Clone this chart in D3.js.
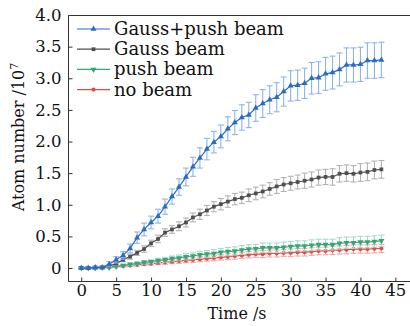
<!DOCTYPE html>
<html>
<head>
<meta charset="utf-8">
<script src="https://cdn.jsdelivr.net/npm/d3@7"></script>
<style>
  body { margin: 0; background: #fff; }
  svg text { font-family: "DejaVu Serif", serif; fill: #111; }
</style>
</head>
<body>
<svg id="chart" width="410" height="326"></svg>
<script>
const times = [0, 1, 2, 3, 4, 5, 6, 7, 8, 9, 10, 11, 12, 13, 14, 15, 16, 17, 18, 19, 20, 21,
  22, 23, 24, 25, 26, 27, 28, 29, 30, 31, 32, 33, 34, 35, 36, 37, 38, 39, 40, 41, 42, 43];

const gaussPush = [0, 0, 0.01, 0.01, 0.06, 0.13, 0.20, 0.31, 0.48, 0.61, 0.72, 0.82, 0.97, 1.13,
  1.28, 1.44, 1.60, 1.74, 1.88, 1.99, 2.08, 2.20, 2.30, 2.38, 2.42, 2.53, 2.60, 2.66, 2.70, 2.79,
  2.88, 2.89, 2.92, 3.00, 3.01, 3.07, 3.09, 3.14, 3.21, 3.21, 3.22, 3.28, 3.28, 3.29];
const gaussPushErr = [0.01, 0.01, 0.02, 0.02, 0.04, 0.05, 0.06, 0.07, 0.09, 0.10, 0.10, 0.11, 0.12,
  0.12, 0.13, 0.14, 0.15, 0.16, 0.17, 0.17, 0.18, 0.19, 0.19, 0.20, 0.20, 0.21, 0.22, 0.22, 0.23,
  0.23, 0.24, 0.24, 0.24, 0.25, 0.25, 0.26, 0.26, 0.26, 0.27, 0.27, 0.27, 0.28, 0.28, 0.28];

const gauss = [0, 0, 0.01, 0.01, 0.03, 0.07, 0.13, 0.18, 0.24, 0.30, 0.39, 0.46, 0.56, 0.61, 0.66,
  0.72, 0.80, 0.85, 0.91, 0.97, 1.01, 1.05, 1.09, 1.11, 1.15, 1.18, 1.21, 1.25, 1.29, 1.32, 1.34,
  1.36, 1.38, 1.40, 1.43, 1.44, 1.44, 1.49, 1.50, 1.49, 1.51, 1.52, 1.55, 1.56];
const gaussErr = [0.01, 0.01, 0.01, 0.01, 0.02, 0.03, 0.03, 0.04, 0.04, 0.05, 0.05, 0.06, 0.06,
  0.06, 0.07, 0.07, 0.07, 0.08, 0.08, 0.08, 0.09, 0.09, 0.09, 0.09, 0.10, 0.10, 0.10, 0.10, 0.11,
  0.11, 0.11, 0.11, 0.12, 0.12, 0.12, 0.12, 0.13, 0.13, 0.13, 0.13, 0.14, 0.14, 0.14, 0.14];

const push = [0, 0, 0, 0.01, 0.01, 0.03, 0.04, 0.06, 0.07, 0.09, 0.10, 0.12, 0.13, 0.15, 0.16,
  0.18, 0.19, 0.21, 0.22, 0.23, 0.25, 0.26, 0.27, 0.285, 0.30, 0.305, 0.32, 0.32, 0.32, 0.33,
  0.34, 0.35, 0.35, 0.36, 0.37, 0.37, 0.37, 0.39, 0.40, 0.40, 0.41, 0.41, 0.42, 0.43];
const pushErr = [0.01, 0.01, 0.01, 0.01, 0.01, 0.015, 0.02, 0.02, 0.025, 0.03, 0.03, 0.035, 0.04,
  0.04, 0.045, 0.05, 0.05, 0.055, 0.055, 0.06, 0.06, 0.065, 0.065, 0.07, 0.07, 0.07, 0.075, 0.075,
  0.075, 0.08, 0.08, 0.08, 0.08, 0.085, 0.085, 0.085, 0.085, 0.09, 0.09, 0.09, 0.09, 0.09, 0.09, 0.09];

const noBeam = [0, 0, 0, 0.01, 0.01, 0.02, 0.03, 0.04, 0.05, 0.06, 0.07, 0.08, 0.09, 0.10, 0.11,
  0.12, 0.13, 0.14, 0.15, 0.16, 0.17, 0.18, 0.19, 0.20, 0.21, 0.22, 0.22, 0.23, 0.23, 0.24, 0.24,
  0.25, 0.25, 0.26, 0.27, 0.27, 0.28, 0.285, 0.29, 0.30, 0.30, 0.30, 0.305, 0.31];
const noBeamErr = [0.01, 0.01, 0.01, 0.01, 0.01, 0.01, 0.015, 0.015, 0.02, 0.02, 0.025, 0.025, 0.03,
  0.03, 0.035, 0.035, 0.04, 0.04, 0.04, 0.045, 0.045, 0.045, 0.05, 0.05, 0.05, 0.05, 0.055, 0.055,
  0.055, 0.055, 0.06, 0.06, 0.06, 0.06, 0.06, 0.06, 0.065, 0.065, 0.065, 0.065, 0.065, 0.065,
  0.065, 0.065];

const xTicks = [0, 5, 10, 15, 20, 25, 30, 35, 40, 45];
const yTicks = [0, 0.5, 1.0, 1.5, 2.0, 2.5, 3.0, 3.5, 4.0];

// drawn bottom-up so the blue curve ends on top
const series = [
  { name: "no beam", values: noBeam, err: noBeamErr, color: "#e8484c", errColor: "#f3a3a5", symbol: d3.symbolCircle, size: 14, rot: 0 },
  { name: "push beam", values: push, err: pushErr, color: "#35a576", errColor: "#a6dcc3", symbol: d3.symbolTriangle, size: 16, rot: 180 },
  { name: "Gauss beam", values: gauss, err: gaussErr, color: "#4f4f4f", errColor: "#b3b3b3", symbol: d3.symbolSquare, size: 14, rot: 0 },
  { name: "Gauss+push beam", values: gaussPush, err: gaussPushErr, color: "#2a6cc4", errColor: "#8fb3e6", symbol: d3.symbolTriangle, size: 16, rot: 0 },
];

const margin = { left: 68, top: 15, right: 410, bottom: 281 };

const svg = d3.select("#chart");

const x = d3.scaleLinear().domain([-1.9, 47.1]).range([margin.left, margin.right]);
const y = d3.scaleLinear().domain([-0.205, 4.0]).range([margin.bottom, margin.top]);

// error bars, lines and markers
series.forEach((s) => {
  const pts = times.map((t, i) => ({ t, v: s.values[i], e: s.err[i] }));
  const g = svg.append("g").attr("class", "series");

  const eb = g.selectAll(".errBar")
    .data(pts)
    .enter()
    .append("g")
    .attr("class", "errBar")
    .attr("stroke", s.errColor)
    .attr("stroke-width", 1.1);
  eb.append("line")
    .attr("x1", (d) => x(d.t)).attr("x2", (d) => x(d.t))
    .attr("y1", (d) => y(d.v - d.e)).attr("y2", (d) => y(d.v + d.e));
  eb.append("line")
    .attr("x1", (d) => x(d.t) - 3).attr("x2", (d) => x(d.t) + 3)
    .attr("y1", (d) => y(d.v + d.e)).attr("y2", (d) => y(d.v + d.e));
  eb.append("line")
    .attr("x1", (d) => x(d.t) - 3).attr("x2", (d) => x(d.t) + 3)
    .attr("y1", (d) => y(d.v - d.e)).attr("y2", (d) => y(d.v - d.e));

  g.append("path")
    .datum(pts)
    .attr("fill", "none")
    .attr("stroke", s.color)
    .attr("stroke-width", 1.2)
    .attr("d", d3.line().x((d) => x(d.t)).y((d) => y(d.v)));

  g.selectAll(".marker")
    .data(pts)
    .enter()
    .append("path")
    .attr("class", "marker")
    .attr("fill", s.color)
    .attr("d", d3.symbol().type(s.symbol).size(s.size))
    .attr("transform", (d) => `translate(${x(d.t)},${y(d.v)}) rotate(${s.rot})`);
});

// frame
svg.append("path")
  .attr("fill", "none")
  .attr("stroke", "#333")
  .attr("stroke-width", 1)
  .attr("d", `M${margin.right},${margin.top + 0.5}H${margin.left + 0.5}V${margin.bottom + 0.5}H${margin.right}`);

// x axis
const xAxis = svg.append("g")
  .attr("transform", `translate(0,${margin.bottom + 0.5})`)
  .call(d3.axisBottom(x).tickValues(xTicks).tickSize(-4).tickPadding(3).tickFormat(d3.format("d")));
xAxis.select(".domain").remove();
xAxis.selectAll(".tick line").attr("stroke", "#333");
xAxis.selectAll(".tick text").attr("font-size", 16.5).attr("fill", "#111");

// y axis
const yAxis = svg.append("g")
  .attr("transform", `translate(${margin.left + 0.5},0)`)
  .call(d3.axisLeft(y).tickValues(yTicks).tickSize(-4).tickPadding(7)
    .tickFormat((d) => (d === 0 ? "0" : d3.format(".1f")(d))));
yAxis.select(".domain").remove();
yAxis.selectAll(".tick line").attr("stroke", "#333");
yAxis.selectAll(".tick text").attr("font-size", 16.5).attr("fill", "#111");

// axis titles
svg.append("text")
  .attr("x", 237)
  .attr("y", 319)
  .attr("text-anchor", "middle")
  .attr("font-size", 16)
  .text("Time /s");

const yTitle = svg.append("text")
  .attr("transform", "translate(24,137) rotate(-90)")
  .attr("text-anchor", "middle")
  .attr("font-size", 16);
yTitle.append("tspan").text("Atom number /10");
yTitle.append("tspan").attr("dy", -6).attr("font-size", 11).text("7");

// legend
const legendOrder = series.slice().reverse();
const legend = svg.selectAll(".legendItem")
  .data(legendOrder)
  .enter()
  .append("g")
  .attr("class", "legendItem")
  .attr("transform", (d, i) => `translate(77,${29 + i * 20.2})`);
legend.append("line")
  .attr("x1", 0).attr("x2", 33)
  .attr("stroke", (d) => d.color)
  .attr("stroke-width", 1.2);
legend.append("path")
  .attr("fill", (d) => d.color)
  .attr("d", (d) => d3.symbol().type(d.symbol).size(d.size)())
  .attr("transform", (d) => `translate(16.5,0) rotate(${d.rot})`);
legend.append("text")
  .attr("x", 37)
  .attr("y", 6)
  .attr("font-size", 18)
  .text((d) => d.name);
</script>
</body>
</html>
